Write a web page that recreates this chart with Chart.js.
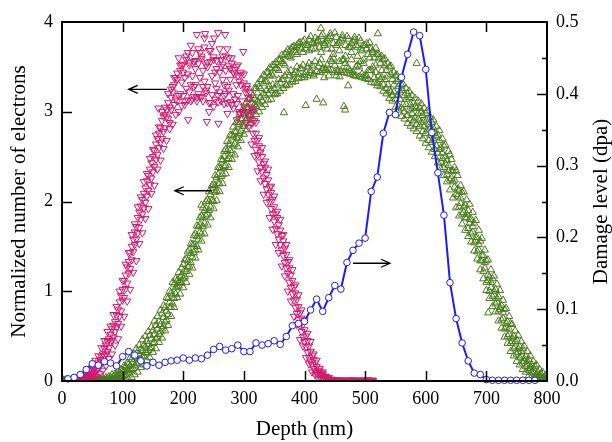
<!DOCTYPE html>
<html>
<head>
<meta charset="utf-8">
<script src="https://cdn.jsdelivr.net/npm/chart.js@4.4.1/dist/chart.umd.min.js"></script>
<style>
  html, body { margin: 0; padding: 0; background: #fff; }
  #wrap { width: 612px; height: 442px; }
</style>
</head>
<body>
<div id="wrap"><canvas id="depthChart" width="612" height="442"></canvas></div>
<script>
// electrons, pink (down triangles): two depth grids, six runs
var pinkDepth = [20,25,30,35,40,45,50,55,60,65,70,75,80,85,90,95,100,105,110,115,120,125,130,135,140,145,150,155,160,165,170,175,180,185,190,195,200,205,210,215,220,225,230,235,240,245,250,255,260,265,270,275,280,285,290,295,300,305,310,315,320,325,330,335,340,345,350,355,360,365,370,375,380,385,390,395,400,405,410,415,420,425,430,435,440,445,450,455,460,465,470,475,480,485,490,495,500,505,510];
var pinkDepth2 = [22.5,27.5,32.5,37.5,42.5,47.5,52.5,57.5,62.5,67.5,72.5,77.5,82.5,87.5,92.5,97.5,102.5,107.5,112.5,117.5,122.5,127.5,132.5,137.5,142.5,147.5,152.5,157.5,162.5,167.5,172.5,177.5,182.5,187.5,192.5,197.5,202.5,207.5,212.5,217.5,222.5,227.5,232.5,237.5,242.5,247.5,252.5,257.5,262.5,267.5,272.5,277.5,282.5,287.5,292.5,297.5,302.5,307.5,312.5,317.5,322.5,327.5,332.5,337.5,342.5,347.5,352.5,357.5,362.5,367.5,372.5,377.5,382.5,387.5,392.5,397.5,402.5,407.5,412.5,417.5,422.5,427.5,432.5,437.5,442.5,447.5,452.5,457.5,462.5,467.5,472.5,477.5,482.5,487.5,492.5,497.5,502.5,507.5,512.5];
var pinkA = [0,0.01,0,0.03,0.02,0.07,0.06,0.15,0.14,0.27, 0.28,0.44,0.43,0.62,0.60,0.88,0.90,1.18,1.20,1.50, 1.52,1.82,1.80,2.09,2.06,2.36,2.33,2.64,2.60,2.90, 2.82,3.10,3.02,3.30,3.12,3.46,3.18,3.58,3.22,3.40, 3.48,3.20,3.62,3.34,3.50,3.10,3.58,3.26,3.44,3.36, 3.46,3.24,3.54,3.14,3.40,3.30,3.06,3.26,2.92,3.00, 2.58,2.62,2.33,2.38,2.08,2.10,1.78,1.82,1.52,1.56, 1.26,1.26,0.97,0.98,0.68,0.70,0.44,0.45,0.22,0.24, 0.16,0.08,0.07,0.03,0.02,0.01,0,0.01,0,0, 0,0.01,0,0,0.01,0,0,0.01,0];
var pinkB = [0.01,0,0.02,0.01,0.05,0.04,0.11,0.10,0.21,0.20, 0.36,0.33,0.52,0.49,0.73,0.72,1.02,1.03,1.33,1.35, 1.66,1.65,1.95,1.93,2.23,2.19,2.50,2.47,2.76,2.70, 2.97,2.92,3.16,3.08,3.36,3.20,3.44,3.26,3.52,3.14, 3.30,3.54,3.16,3.82,3.28,3.56,3.06,3.48,3.22,3.62, 3.20,3.60,3.08,3.42,3.18,3.44,3.32,3.00,3.14,2.76, 2.76,2.44,2.50,2.20,2.24,1.92,1.94,1.64,1.68,1.40, 1.41,1.10,1.12,0.82,0.83,0.55,0.57,0.32,0.33,0.14, 0.09,0.11,0.03,0.04,0.01,0,0.01,0,0,0.01, 0,0,0.01,0,0,0,0.01,0,0];
var pinkC = [0,0.02,0.01,0.04,0.03,0.09,0.08,0.18,0.17,0.30, 0.40,0.37,0.58,0.55,0.80,0.78,1.12,1.09,1.43,1.44, 1.72,1.71,2.02,1.99,2.29,2.26,2.57,2.52,2.82,2.78, 2.94,3.05,3.22,3.14,3.60,3.33,3.38,3.66,3.30,3.56, 3.86,3.38,3.46,3.24,3.68,3.40,3.32,3.88,3.50,3.18, 3.70,3.36,3.44,3.30,2.98,3.12,3.22,3.16,2.86,2.90, 2.52,2.55,2.26,2.30,2.00,2.02,1.70,1.74,1.46,1.48, 1.20,1.18,0.90,0.91,0.62,0.63,0.38,0.39,0.18,0.20, 0.12,0.06,0.05,0.02,0.01,0.01,0,0,0.01,0, 0.01,0,0,0.01,0,0,0,0,0.01];
var pinkD = [0.01,0,0.03,0.02,0.06,0.05,0.13,0.12,0.24,0.23, 0.30,0.47,0.45,0.66,0.64,0.95,0.93,1.27,1.25,1.58, 1.58,1.88,1.86,2.15,2.12,2.43,2.39,2.70,2.66,2.95, 3.02,2.88,3.28,3.38,3.18,3.52,3.12,3.42,3.74,3.28, 3.12,3.66,3.28,3.52,3.00,3.76,3.44,3.18,3.58,3.30, 3.28,3.48,3.20,3.50,3.34,3.00,3.26,2.96,3.04,2.68, 2.68,2.38,2.42,2.14,2.16,1.86,1.86,1.58,1.62,1.32, 1.33,1.04,1.05,0.75,0.76,0.49,0.50,0.26,0.28,0.11, 0.07,0.09,0.02,0.03,0,0,0.01,0,0,0, 0,0,0,0,0,0.01,0,0,0];
var pinkE = [0.02,0.01,0.04,0.05,0.08,0.12,0.15,0.23,0.28,0.37, 0.45,0.55,0.61,0.74,0.83,1.00,1.12,1.30,1.43,1.63, 1.75,1.94,2.05,2.22,2.31,2.48,2.58,2.74,2.83,3.00, 3.05,3.20,3.25,3.38,3.43,3.52,3.53,3.62,3.55,3.66, 3.57,3.70,3.59,3.72,3.55,3.68,3.61,3.57,3.70,3.53, 3.62,3.51,3.60,3.47,3.52,3.41,3.42,3.29,3.22,3.03, 2.88,2.71,2.60,2.45,2.36,2.17,2.06,1.89,1.80,1.63, 1.52,1.35,1.24,1.07,0.96,0.79,0.68,0.53,0.44,0.30, 0.23,0.14,0.10,0.05,0.04,0.02,0.01,0,0.01,0, 0,0,0.01,0,0,0,0,0.01,0];
var pinkF = [0,0,0,0,0.01,0.02,0.03,0.05,0.08,0.12, 0.17,0.25,0.30,0.40,0.47,0.61,0.72,0.89,1.02,1.21, 1.34,1.53,1.65,1.81,1.92,2.09,2.18,2.36,2.46,2.59, 2.68,2.81,2.86,2.97,3.00,3.07,3.08,3.13,3.12,3.17, 3.16,3.17,3.12,3.21,3.10,3.19,3.14,3.11,3.12,3.09, 3.10,3.11,3.04,3.09,3.00,2.99,2.88,2.83,2.64,2.51, 2.34,2.23,2.08,1.99,1.82,1.69,1.52,1.43,1.28,1.17, 1.00,0.89,0.72,0.63,0.46,0.39,0.26,0.19,0.10,0.07, 0.03,0.02,0.01,0,0,0,0,0,0,0, 0,0,0,0,0,0,0,0,0];
// scattered pink points off the main band
var pinkOddDepth = [159, 208, 236, 239, 251, 258, 269, 273, 288, 299];
var pinkOddValue = [3.04, 2.91, 3.87, 2.89, 3.82, 2.87, 3.86, 2.98, 2.91, 3.67];

// electrons, green (up triangles)
var greenDepth = [0,5,10,15,20,25,30,35,40,45,50,55,60,65,70,75,80,85,90,95,100,105,110,115,120,125,130,135,140,145,150,155,160,165,170,175,180,185,190,195,200,205,210,215,220,225,230,235,240,245,250,255,260,265,270,275,280,285,290,295,300,305,310,315,320,325,330,335,340,345,350,355,360,365,370,375,380,385,390,395,400,405,410,415,420,425,430,435,440,445,450,455,460,465,470,475,480,485,490,495,500,505,510,515,520,525,530,535,540,545,550,555,560,565,570,575,580,585,590,595,600,605,610,615,620,625,630,635,640,645,650,655,660,665,670,675,680,685,690,695,700,705,710,715,720,725,730,735,740,745,750,755,760,765,770,775,780,785,790,795,800];
var greenDepth2 = [2.5,7.5,12.5,17.5,22.5,27.5,32.5,37.5,42.5,47.5,52.5,57.5,62.5,67.5,72.5,77.5,82.5,87.5,92.5,97.5,102.5,107.5,112.5,117.5,122.5,127.5,132.5,137.5,142.5,147.5,152.5,157.5,162.5,167.5,172.5,177.5,182.5,187.5,192.5,197.5,202.5,207.5,212.5,217.5,222.5,227.5,232.5,237.5,242.5,247.5,252.5,257.5,262.5,267.5,272.5,277.5,282.5,287.5,292.5,297.5,302.5,307.5,312.5,317.5,322.5,327.5,332.5,337.5,342.5,347.5,352.5,357.5,362.5,367.5,372.5,377.5,382.5,387.5,392.5,397.5,402.5,407.5,412.5,417.5,422.5,427.5,432.5,437.5,442.5,447.5,452.5,457.5,462.5,467.5,472.5,477.5,482.5,487.5,492.5,497.5,502.5,507.5,512.5,517.5,522.5,527.5,532.5,537.5,542.5,547.5,552.5,557.5,562.5,567.5,572.5,577.5,582.5,587.5,592.5,597.5,602.5,607.5,612.5,617.5,622.5,627.5,632.5,637.5,642.5,647.5,652.5,657.5,662.5,667.5,672.5,677.5,682.5,687.5,692.5,697.5,702.5,707.5,712.5,717.5,722.5,727.5,732.5,737.5,742.5,747.5,752.5,757.5,762.5,767.5,772.5,777.5,782.5,787.5,792.5,797.5];
var greenA = [0,0.01,0,0,0.01,0,0,0.01,0,0.01,0,0.01,0.02,0,0.01,
  0.03,0.01,0.05,0.02,0.09,0.05,0.16,0.10,0.24,0.17,
  0.33,0.24,0.40,0.31,0.51,0.42,0.62,0.52,0.75,0.66,
  0.92,0.82,1.08,1.05,1.10,1.30,1.22,1.46,1.38,1.64,
  1.58,1.84,1.76,2.02,1.94,2.19,2.12,2.38,2.30,2.58,
  2.48,2.74,2.64,2.88,2.78,3.02,2.92,3.15,3.02,3.26,
  3.10,3.36,3.18,3.44,3.24,3.52,3.30,3.58,3.36,3.66,
  3.40,3.72,3.44,3.76,3.48,3.80,3.50,3.84,3.40,3.78,
  3.54,3.86,3.48,3.82,3.56,3.88,3.44,3.80,3.58,3.84,
  3.46,3.78,3.50,3.82,3.42,3.74,3.46,3.70,3.38,3.64,
  3.36,3.58,3.26,3.50,3.18,3.40,3.06,3.30,3.00,3.20,
  2.92,3.10,2.86,3.04,2.78,2.98,2.68,2.88,2.58,2.74,
  2.44,2.62,2.30,2.52,2.22,2.34,1.94,2.10,1.82,1.90,
  1.64,1.76,1.44,1.56,1.22,1.34,1.00,1.14,0.86,0.94,
  0.68,0.80,0.50,0.64,0.36,0.46,0.26,0.36,0.16,0.24,
  0.09,0.16,0.03,0.08,0.01,0.02];
var greenB = [0.01,0,0,0.01,0,0,0.01,0,0,0,0.01,0,0,0.01,0.02,
  0,0.04,0.01,0.07,0.03,0.12,0.07,0.19,0.13,0.28,
  0.20,0.36,0.28,0.44,0.36,0.56,0.47,0.66,0.58,0.82,
  0.74,0.98,0.92,1.12,1.16,1.14,1.36,1.28,1.52,1.46,
  1.72,1.64,1.90,1.86,2.08,2.00,2.27,2.20,2.46,2.40,
  2.64,2.54,2.78,2.70,2.92,2.84,3.05,2.96,3.18,3.06,
  3.28,3.12,3.34,3.20,3.42,3.26,3.48,3.32,3.54,3.30,
  3.62,3.36,3.66,3.42,3.70,3.38,3.74,3.46,3.76,3.14,
  3.72,3.48,3.78,3.40,3.70,3.52,3.76,3.46,3.06,3.50,
  3.72,3.44,3.74,3.50,3.68,3.40,3.64,3.46,3.60,3.32,
  3.54,3.30,3.46,3.24,3.36,3.14,3.28,3.04,3.18,2.96,
  3.08,2.90,3.04,2.84,2.96,2.76,2.86,2.66,2.76,2.54,
  2.60,2.38,2.46,2.24,2.34,2.08,2.12,1.86,1.96,1.70,
  1.80,1.54,1.60,1.34,1.40,1.10,1.16,0.94,1.02,0.78,
  0.84,0.58,0.66,0.42,0.50,0.30,0.38,0.20,0.27,0.12,
  0.18,0.05,0.10,0.02,0.04,0];
var greenC = [0,0,0.01,0,0,0.01,0,0,0.01,0,0,0.01,0,0.01,0,
  0.02,0.03,0.02,0.06,0.04,0.11,0.09,0.17,0.14,0.26,
  0.24,0.34,0.32,0.41,0.37,0.52,0.49,0.63,0.61,0.78,
  0.82,0.96,0.97,1.10,1.09,1.24,1.27,1.42,1.43,1.61,
  1.66,1.82,1.84,2.00,2.01,2.18,2.20,2.37,2.39,2.56,
  2.57,2.72,2.71,2.86,2.84,2.98,2.96,3.10,3.08,3.21,
  3.16,3.32,3.24,3.40,3.30,3.48,3.36,3.56,3.40,3.62,
  3.46,3.68,3.50,3.72,3.52,3.74,3.54,3.70,3.56,3.80,
  3.58,3.76,3.52,3.84,3.60,3.74,3.56,3.82,3.54,3.72,
  3.58,3.80,3.52,3.70,3.54,3.76,3.46,3.66,3.44,3.60,
  3.38,3.52,3.30,3.42,3.22,3.34,3.14,3.24,3.08,3.16,
  2.98,3.06,2.92,3.00,2.84,2.92,2.74,2.82,2.62,2.68,
  2.48,2.50,2.34,2.34,2.16,2.14,1.98,1.94,1.82,1.80,
  1.66,1.60,1.46,1.40,1.26,1.18,1.04,1.00,0.88,0.82,
  0.70,0.64,0.52,0.48,0.38,0.36,0.28,0.25,0.18,0.16,
  0.10,0.08,0.04,0.03,0.01];
var greenD = [0.01,0,0,0,0.01,0,0,0,0,0.01,0.01,0,0.01,0,0.01,
  0,0.01,0.04,0.03,0.08,0.06,0.13,0.12,0.21,0.19,
  0.29,0.27,0.38,0.34,0.47,0.43,0.58,0.55,0.71,0.68,
  0.88,0.86,1.04,1.06,1.18,1.16,1.34,1.32,1.52,1.50,
  1.74,1.72,1.92,1.90,2.12,2.10,2.30,2.28,2.50,2.47,
  2.64,2.62,2.78,2.76,2.92,2.90,3.04,3.00,3.14,3.12,
  3.26,3.20,3.34,3.28,3.40,3.20,3.46,3.36,3.52,3.44,
  3.60,3.42,3.64,3.48,3.66,3.44,3.68,3.52,3.70,3.50,
  3.66,3.38,3.70,3.58,3.64,3.40,3.68,3.58,3.62,3.48,
  3.66,3.40,3.62,3.56,3.58,3.40,3.60,3.50,3.52,3.40,
  3.46,3.36,3.40,3.22,3.30,3.18,3.22,3.08,3.14,3.02,
  3.04,2.94,2.98,2.88,2.90,2.80,2.82,2.70,2.72,2.58,
  2.54,2.42,2.40,2.26,2.24,2.06,2.04,1.88,1.86,1.76,
  1.72,1.56,1.52,1.34,1.32,1.12,1.10,0.96,0.92,0.80,
  0.76,0.60,0.58,0.44,0.44,0.32,0.33,0.22,0.22,0.14,
  0.14,0.06,0.06,0.02,0.02];
var greenE = [0.01,0.02,0,0.01,0.02,0.01,0,0.02,0.01,0.02,0.01,0.03,0.02,0.03,0.04,
  0.05,0.07,0.08,0.11,0.13,0.17,0.20,0.26,0.30,0.36,
  0.40,0.46,0.50,0.55,0.60,0.67,0.72,0.79,0.84,0.93,
  1.00,1.10,1.14,1.21,1.26,1.35,1.44,1.53,1.62,1.73,
  1.82,1.93,2.00,2.11,2.18,2.29,2.38,2.47,2.56,2.67,
  2.74,2.83,2.88,2.97,3.02,3.09,3.14,3.21,3.26,3.31,
  3.36,3.41,3.44,3.49,3.52,3.55,3.58,3.63,3.64,3.69,
  3.70,3.73,3.74,3.77,3.78,3.70,3.80,3.77,3.82,3.79,
  3.84,3.74,3.80,3.87,3.76,3.83,3.78,3.85,3.74,3.81,
  3.76,3.83,3.72,3.79,3.74,3.70,3.77,3.68,3.71,3.64,
  3.62,3.59,3.54,3.51,3.44,3.41,3.36,3.31,3.26,3.23,
  3.18,3.15,3.12,3.09,3.04,3.01,2.94,2.91,2.84,2.79,
  2.70,2.63,2.56,2.47,2.38,2.29,2.18,2.11,2.02,1.97,
  1.88,1.79,1.68,1.59,1.46,1.35,1.24,1.17,1.08,1.01,
  0.90,0.81,0.72,0.63,0.56,0.51,0.44,0.39,0.33,0.28,
  0.22,0.18,0.13,0.10,0.06];
var greenF = [0,0,0,0,0,0,0,0,0,0,0,0,0,0,0,
  0,0,0,0,0,0,0,0.02,0.04,0.07,
  0.10,0.15,0.18,0.23,0.26,0.32,0.36,0.43,0.48,0.56,
  0.62,0.72,0.82,0.93,0.97,1.04,1.10,1.19,1.26,1.37,
  1.46,1.56,1.64,1.74,1.82,1.92,2.01,2.11,2.20,2.31,
  2.38,2.47,2.52,2.61,2.68,2.75,2.80,2.87,2.92,2.97,
  3.00,3.05,3.08,3.13,3.14,3.19,3.20,3.23,3.26,3.29,
  3.30,3.33,3.34,3.37,3.38,3.41,3.40,3.43,3.42,3.45,
  3.44,3.46,3.46,3.47,3.46,3.44,3.46,3.44,3.44,3.43,
  3.42,3.41,3.40,3.39,3.38,3.37,3.36,3.33,3.32,3.29,
  3.28,3.23,3.20,3.15,3.12,3.05,3.02,2.95,2.92,2.87,
  2.84,2.81,2.78,2.73,2.70,2.65,2.60,2.55,2.50,2.43,
  2.36,2.29,2.22,2.13,2.04,1.93,1.84,1.75,1.68,1.61,
  1.55,1.45,1.36,1.24,1.14,1.01,0.92,0.83,0.77,0.67,
  0.59,0.49,0.42,0.33,0.28,0.22,0.18,0.13,0.10,0.06,
  0.05,0.02,0.01,0,0,0];
// scattered green points off the main band
var greenOddDepth = [230, 250, 366, 402, 427, 431, 458, 467, 472, 521, 585, 703];
var greenOddValue = [1.96, 2.15, 2.99, 3.07, 3.93, 3.10, 3.39, 3.02, 3.29, 3.87, 3.54, 0.76];

// damage level (dpa), blue line on right axis
var dpaDepth = [10,20,30,40,50,60,70,80,90,100,110,120,130,140,150,160,170,180,190,200,210,220,230,240,250,260,270,280,290,300,310,320,330,340,350,360,370,380,390,400,410,420,430,440,450,460,470,480,490,500,510,520,530,540,550,560,570,580,590,600,610,620,630,640,650,660,670,680,690,700,710,720,730,740,750,760,770,780];
var dpaValue = [0.003,0.005,0.009,0.016,0.024,0.022,0.027,0.025,0.021,0.034,0.041,0.036,0.028,0.021,0.026,0.022,0.026,0.028,0.029,0.032,0.029,0.032,0.031,0.036,0.044,0.048,0.043,0.045,0.050,0.041,0.041,0.053,0.050,0.052,0.056,0.051,0.062,0.077,0.080,0.083,0.099,0.114,0.097,0.116,0.133,0.128,0.165,0.182,0.192,0.199,0.264,0.284,0.345,0.374,0.371,0.423,0.455,0.486,0.481,0.434,0.346,0.290,0.231,0.137,0.087,0.053,0.028,0.011,0.009,0.002,0.001,0.001,0.001,0.001,0.001,0.001,0.001,0.001];

var xTicks = [0,100,200,300,400,500,600,700,800];
var leftTicks = [0,1,2,3,4];
var rightTicks = [0,0.1,0.2,0.3,0.4,0.5];

// arrows point at the axis each curve belongs to
var arrowNotes = [
  { x0: 173, x1: 110, y: 3.25, axis: 'y' },
  { x0: 247, x1: 186, y: 2.12, axis: 'y' },
  { x0: 480, x1: 541, y: 0.164, axis: 'y2' }
];

var serif = "'Liberation Serif', 'Times New Roman', serif";
var pinkColor = '#d5186e';
var greenColor = '#4a7c1c';
var blueColor = '#1c1cff';

function toPoints(xs, ys) {
  return xs.map(function(x, i) { return { x: x, y: ys[i] }; });
}

function triSet(xs, ys, color, rot) {
  return {
    data: toPoints(xs, ys),
    yAxisID: 'y',
    pointStyle: 'triangle',
    rotation: rot,
    pointRadius: 4.2,
    pointBorderWidth: 1,
    borderColor: color,
    backgroundColor: 'rgba(0,0,0,0)',
    pointBackgroundColor: 'rgba(0,0,0,0)',
    showLine: false,
    order: 2
  };
}

// frame, inward ticks, arrows and the right title
var framePlugin = {
  id: 'framePlugin',
  afterDraw: function(chart) {
    var c = chart.ctx;
    var a = chart.chartArea;
    var sx = chart.scales.x, sy = chart.scales.y, sy2 = chart.scales.y2;
    c.save();
    c.strokeStyle = '#000';
    c.lineWidth = 1.5;
    c.beginPath();
    xTicks.slice(1, -1).forEach(function(v) {
      var px = Math.round(sx.getPixelForValue(v)) + 0.5;
      c.moveTo(px, a.bottom); c.lineTo(px, a.bottom - 10);
      c.moveTo(px, a.top); c.lineTo(px, a.top + 10);
    });
    leftTicks.slice(1, -1).forEach(function(v) {
      var py = Math.round(sy.getPixelForValue(v)) + 0.5;
      c.moveTo(a.left, py); c.lineTo(a.left + 10, py);
    });
    rightTicks.slice(1, -1).forEach(function(v) {
      var py = Math.round(sy2.getPixelForValue(v)) + 0.5;
      c.moveTo(a.right, py); c.lineTo(a.right - 10, py);
    });
    rightTicks.slice(0, -1).forEach(function(v) {
      var py = Math.round(sy2.getPixelForValue(v + 0.05)) + 0.5;
      c.moveTo(a.right, py); c.lineTo(a.right - 5, py);
    });
    c.stroke();

    c.lineWidth = 2;
    c.strokeRect(a.left, a.top, a.right - a.left, a.bottom - a.top);

    // arrows
    c.lineWidth = 1.3;
    arrowNotes.forEach(function(n) {
      var ys = chart.scales[n.axis];
      var x0 = sx.getPixelForValue(n.x0), x1 = sx.getPixelForValue(n.x1);
      var py = ys.getPixelForValue(n.y);
      var dir = x1 > x0 ? -1 : 1;
      c.beginPath();
      c.moveTo(x0, py); c.lineTo(x1, py);
      c.moveTo(x1 + dir * 9, py - 4); c.lineTo(x1, py); c.lineTo(x1 + dir * 9, py + 4);
      c.stroke();
    });

    // right axis title reads bottom to top
    c.fillStyle = '#000';
    c.font = '21px ' + serif;
    c.textAlign = 'center';
    c.textBaseline = 'middle';
    c.translate(601, (a.top + a.bottom) / 2);
    c.rotate(-Math.PI / 2);
    c.fillText('Damage level (dpa)', 0, 0);
    c.restore();
  }
};

var tickFont = { family: serif, size: 18 };
var titleFont = { family: serif, size: 21 };

new Chart(document.getElementById('depthChart'), {
  type: 'scatter',
  data: {
    datasets: [
      triSet(pinkDepth, pinkA, pinkColor, 180),
      triSet(pinkDepth, pinkB, pinkColor, 180),
      triSet(pinkDepth2, pinkC, pinkColor, 180),
      triSet(pinkDepth2, pinkD, pinkColor, 180),
      triSet(pinkDepth, pinkE, pinkColor, 180),
      triSet(pinkDepth2, pinkF, pinkColor, 180),
      triSet(pinkOddDepth, pinkOddValue, pinkColor, 180),
      triSet(greenDepth, greenA, greenColor, 0),
      triSet(greenDepth, greenB, greenColor, 0),
      triSet(greenDepth2, greenC, greenColor, 0),
      triSet(greenDepth2, greenD, greenColor, 0),
      triSet(greenDepth2, greenE, greenColor, 0),
      triSet(greenDepth, greenF, greenColor, 0),
      triSet(greenOddDepth, greenOddValue, greenColor, 0),
      {
        data: toPoints(dpaDepth, dpaValue),
        yAxisID: 'y2',
        showLine: true,
        borderColor: blueColor,
        borderWidth: 2,
        pointStyle: 'circle',
        pointRadius: 3.3,
        pointBorderWidth: 1,
        pointBorderColor: blueColor,
        pointBackgroundColor: '#fff',
        clip: 5,
        order: 0
      }
    ]
  },
  options: {
    responsive: false,
    animation: false,
    layout: { padding: { top: 22, left: 0, right: 0, bottom: 0 } },
    plugins: { legend: { display: false }, tooltip: { enabled: false } },
    scales: {
      x: {
        type: 'linear', min: 0, max: 800,
        grid: { display: false, drawTicks: false },
        border: { display: false },
        ticks: { stepSize: 100, font: tickFont, color: '#000', padding: 7, maxRotation: 0 },
        title: { display: true, text: 'Depth (nm)', font: titleFont, color: '#000', padding: { top: 0, bottom: 0 } },
        afterFit: function(s) { s.height = 61; }
      },
      y: {
        position: 'left', min: 0, max: 4,
        grid: { display: false, drawTicks: false },
        border: { display: false },
        ticks: { stepSize: 1, font: tickFont, color: '#000', padding: 9 },
        title: { display: true, text: 'Normalized number of electrons', font: titleFont, color: '#000', padding: { top: 7, bottom: 0 } },
        afterFit: function(s) { s.width = 62; }
      },
      y2: {
        position: 'right', min: 0, max: 0.5,
        grid: { display: false, drawTicks: false },
        border: { display: false },
        ticks: { stepSize: 0.1, font: tickFont, color: '#000', padding: 9,
          callback: function(v) { return v.toFixed(1); } },
        afterFit: function(s) { s.width = 65; }
      }
    }
  },
  plugins: [framePlugin]
});
</script>
</body>
</html>
